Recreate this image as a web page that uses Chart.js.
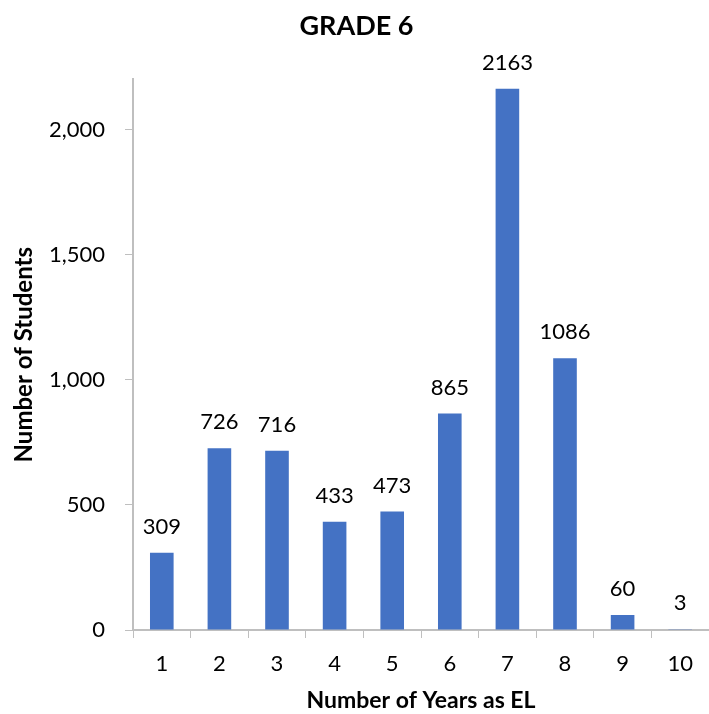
<!DOCTYPE html>
<html>
<head>
<meta charset="utf-8">
<script src="https://cdn.jsdelivr.net/npm/chart.js@4"></script>
<style>
  html, body { margin: 0; padding: 0; background: #fff; }
  #wrap { width: 709px; height: 714px; }
</style>
</head>
<body>
<div id="wrap"><canvas id="gradeChart"></canvas></div>
<script>
const years = ['1', '2', '3', '4', '5', '6', '7', '8', '9', '10'];
const students = [309, 726, 716, 433, 473, 865, 2163, 1086, 60, 3];
const yTicks = [0, 500, 1000, 1500, 2000];

const font = "Lato, 'Open Sans', sans-serif";
const axisGray = '#bfbfbf';

// draws the value above each bar
const barValues = {
  id: 'barValues',
  afterDatasetsDraw(chart) {
    const ctx = chart.ctx;
    const meta = chart.getDatasetMeta(0);
    ctx.save();
    ctx.font = '22px ' + font;
    ctx.fillStyle = '#000';
    ctx.textAlign = 'center';
    ctx.textBaseline = 'alphabetic';
    meta.data.forEach((bar, i) => {
      ctx.fillText(students[i], bar.x, bar.y - 19);
    });
    ctx.restore();
  }
};

new Chart(document.getElementById('gradeChart'), {
  type: 'bar',
  data: {
    labels: years,
    datasets: [{
      label: 'Students',
      data: students,
      backgroundColor: '#4472c4',
      categoryPercentage: 1,
      barPercentage: 0.41
    }]
  },
  options: {
    responsive: true,
    maintainAspectRatio: false,
    animation: false,
    layout: { padding: { top: 0, right: 0, left: 4, bottom: 0 } },
    plugins: {
      legend: { display: false },
      tooltip: { enabled: false },
      title: {
        display: true,
        text: 'GRADE 6',
        color: '#000',
        font: { family: font, size: 27, weight: 'bold' },
        padding: { top: 10, bottom: 37 }
      }
    },
    scales: {
      x: {
        afterFit(axis) { axis.height = 84; },
        grid: { display: true, drawOnChartArea: false, drawTicks: true, tickLength: 8, color: axisGray, offset: true },
        border: { color: axisGray, width: 2 },
        ticks: { color: '#000', font: { family: font, size: 22 }, padding: 13 },
        title: {
          display: true,
          text: 'Number of Years as EL',
          color: '#000',
          font: { family: font, size: 23, weight: 'bold' },
          padding: { top: 10, bottom: 0 }
        }
      },
      y: {
        min: 0,
        max: 2200,
        afterBuildTicks(axis) {
          axis.ticks = yTicks.map(v => ({ value: v }));
        },
        afterFit(axis) { axis.width = 129; },
        grid: { display: true, drawOnChartArea: false, drawTicks: true, tickLength: 8, color: axisGray },
        border: { color: axisGray, width: 2 },
        ticks: {
          color: '#000',
          font: { family: font, size: 22 },
          padding: 20,
          callback: v => v.toLocaleString('en-US')
        },
        title: {
          display: true,
          text: 'Number of Students',
          color: '#000',
          font: { family: font, size: 24, weight: 'bold' },
          padding: { top: 6, bottom: 8 }
        }
      }
    }
  },
  plugins: [barValues]
});
</script>
</body>
</html>
